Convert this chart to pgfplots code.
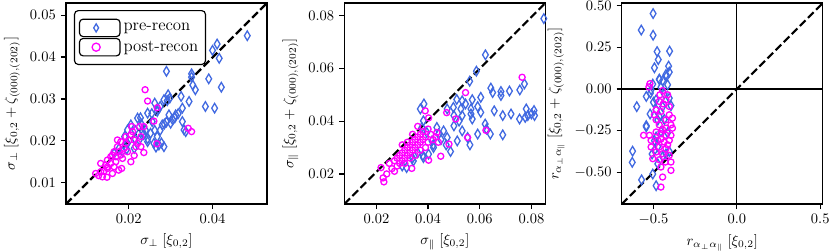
\documentclass[border=0pt]{standalone}
\usepackage{pgfplots}
\pgfplotsset{compat=1.18}
\definecolor{preblue}{RGB}{65,105,225}
\definecolor{postmag}{RGB}{255,0,255}
\tikzset{
  fmt/.style={/pgf/number format/fixed, /pgf/number format/fixed zerofill, /pgf/number format/precision=#1},
  diag/.style={black, line width=1.5pt, dash pattern=on 5.5pt off 2.4pt},
}
\newcommand{\lf}{\fontsize{11.6}{14}\selectfont}
\pgfplotsset{
  panel/.style={scale only axis, width=138.7pt, height=138.7pt, anchor=south west,
    tick align=outside, xtick pos=left, ytick pos=left,
    major tick length=3.5pt,
    every tick/.style={black, line width=0.8pt},
    axis line style={black, line width=0.8pt},
    scaled ticks=false,
    tick label style={font=\normalsize},
    label style={font=\normalsize},
  },
  pre/.style={only marks, mark=diamond, mark size=3.3pt,
    mark options={xscale=0.8, draw=preblue, line width=0.9pt, fill=none, solid}},
  post/.style={only marks, mark=o, mark size=2.1pt,
    mark options={draw=postmag, line width=0.9pt, fill=none, solid}},
}
\begin{document}
\begin{tikzpicture}
\useasboundingbox (0,0) rectangle (572.7pt,173.2pt);
% ---------------- panel 1
\begin{axis}[panel, at={(45.5pt,32.4pt)},
  xmin=0.0050, xmax=0.0530, ymin=0.0049, ymax=0.0529,
  xtick={0.02,0.04}, ytick={0.01,0.02,0.03,0.04,0.05},
  xticklabel style={fmt=2}, yticklabel style={fmt=2},
  xlabel={$\sigma_\perp\;[\xi_{0,2}]$},
  ylabel={$\sigma_\perp\;[\xi_{0,2}+\zeta_{(000),(202)}]$},
  legend style={at={(0.04,0.965)}, anchor=north west, draw=black, rounded corners=2.5pt,
    line width=0.8pt, inner xsep=3pt, inner ysep=5.5pt, row sep=0.5pt,
    font=\lf, nodes={font=\lf}},
  legend cell align=left,
  legend image code/.code={\path (0pt,-6pt) rectangle (28pt,6pt);
    \draw[#1, only marks, mark size=2.8pt] plot coordinates {(11.5pt,0pt)};},
]
\addplot[pre] coordinates {
(0.0483,0.0451) (0.0411,0.0431) (0.0400,0.0416) (0.0416,0.0397) (0.0290,0.0366)
(0.0350,0.0360) (0.0350,0.0352) (0.0391,0.0348) (0.0353,0.0333) (0.0421,0.0328)
(0.0359,0.0322) (0.0325,0.0306) (0.0294,0.0310) (0.0284,0.0298) (0.0383,0.0282)
(0.0405,0.0278) (0.0344,0.0294) (0.0328,0.0278) (0.0268,0.0270) (0.0296,0.0262)
(0.0312,0.0262) (0.0245,0.0266) (0.0221,0.0254) (0.0256,0.0246) (0.0280,0.0238)
(0.0300,0.0242) (0.0328,0.0246) (0.0332,0.0226) (0.0336,0.0222) (0.0205,0.0238)
(0.0197,0.0226) (0.0233,0.0222) (0.0252,0.0218) (0.0268,0.0210) (0.0225,0.0202)
(0.0245,0.0198) (0.0260,0.0194) (0.0284,0.0186) (0.0272,0.0190) (0.0197,0.0194)
(0.0213,0.0182) (0.0177,0.0182) (0.0165,0.0170) (0.0270,0.0275) (0.0262,0.0290)
(0.0255,0.0265) (0.0230,0.0240) (0.0235,0.0215) (0.0215,0.0205) (0.0240,0.0225)
(0.0275,0.0225) (0.0285,0.0240) (0.0290,0.0245) (0.0305,0.0250) (0.0310,0.0255)
(0.0318,0.0265) (0.0228,0.0255) (0.0190,0.0210) (0.0195,0.0180) (0.0185,0.0175)
(0.0215,0.0225) (0.0245,0.0205) (0.0265,0.0185) (0.0262,0.0225) (0.0298,0.0302)
(0.0292,0.0296) (0.0275,0.0282) (0.0278,0.0195)
};
\addlegendentry{\lf pre-recon}
\addplot[post] coordinates {
(0.0239,0.0322) (0.0245,0.0295) (0.0268,0.0279) (0.0260,0.0247) (0.0207,0.0234)
(0.0236,0.0234) (0.0226,0.0234) (0.0342,0.0230) (0.0350,0.0222) (0.0267,0.0193)
(0.0236,0.0172) (0.0213,0.0165) (0.0205,0.0150) (0.0183,0.0134) (0.0161,0.0166)
(0.0149,0.0134) (0.0148,0.0113) (0.0161,0.0122) (0.0176,0.0130) (0.0193,0.0210)
(0.0205,0.0214) (0.0213,0.0202) (0.0229,0.0210) (0.0229,0.0186) (0.0217,0.0186)
(0.0181,0.0198) (0.0173,0.0186) (0.0165,0.0174) (0.0157,0.0162) (0.0149,0.0154)
(0.0169,0.0150) (0.0185,0.0158) (0.0197,0.0174) (0.0189,0.0182) (0.0157,0.0146)
(0.0145,0.0142) (0.0165,0.0138) (0.0133,0.0126) (0.0121,0.0122) (0.0133,0.0146)
(0.0149,0.0138) (0.0177,0.0174) (0.0169,0.0162) (0.0193,0.0194) (0.0209,0.0222)
(0.0201,0.0202) (0.0221,0.0194) (0.0173,0.0202) (0.0181,0.0166) (0.0137,0.0114)
(0.0128,0.0117) (0.0141,0.0128)
};
\addlegendentry{\lf post-recon}
\draw[diag] (rel axis cs:0,0) -- (rel axis cs:1,1);
\end{axis}
% ---------------- panel 2
\begin{axis}[panel, at={(237.6pt,32.4pt)},
  xmin=0.0076, xmax=0.0854, ymin=0.0086, ymax=0.0847,
  xtick={0.02,0.04,0.06,0.08}, ytick={0.02,0.04,0.06,0.08},
  xticklabel style={fmt=2}, yticklabel style={fmt=2},
  xlabel={$\sigma_\parallel\;[\xi_{0,2}]$},
  ylabel={$\sigma_\parallel\;[\xi_{0,2}+\zeta_{(000),(202)}]$},
]
\addplot[pre] coordinates {
(0.0848,0.0788) (0.0622,0.0651) (0.0587,0.0589) (0.0561,0.0551) (0.0773,0.0541)
(0.0755,0.0518) (0.0643,0.0525) (0.0650,0.0508) (0.0682,0.0512) (0.0715,0.0514)
(0.0682,0.0497) (0.0604,0.0490) (0.0571,0.0481) (0.0532,0.0477) (0.0511,0.0482)
(0.0545,0.0465) (0.0498,0.0452) (0.0527,0.0446) (0.0566,0.0446) (0.0592,0.0455)
(0.0604,0.0433) (0.0566,0.0427) (0.0532,0.0421) (0.0571,0.0408) (0.0500,0.0421)
(0.0474,0.0446) (0.0656,0.0439) (0.0689,0.0421) (0.0721,0.0427) (0.0754,0.0408)
(0.0780,0.0446) (0.0786,0.0421) (0.0800,0.0427) (0.0810,0.0440) (0.0812,0.0421)
(0.0776,0.0414) (0.0621,0.0389) (0.0626,0.0370) (0.0641,0.0351) (0.0689,0.0348)
(0.0562,0.0310) (0.0487,0.0285) (0.0532,0.0363) (0.0500,0.0382) (0.0460,0.0363)
(0.0441,0.0351) (0.0434,0.0376) (0.0415,0.0325) (0.0382,0.0401) (0.0376,0.0376)
(0.0395,0.0357) (0.0421,0.0300) (0.0402,0.0275) (0.0382,0.0262) (0.0343,0.0249)
(0.0317,0.0224) (0.0370,0.0446) (0.0384,0.0465) (0.0474,0.0338) (0.0513,0.0325)
(0.0553,0.0338) (0.0592,0.0351) (0.0360,0.0280) (0.0380,0.0270) (0.0340,0.0260)
(0.0300,0.0230) (0.0420,0.0310) (0.0450,0.0330) (0.0470,0.0310) (0.0520,0.0400)
};
\addplot[post] coordinates {
(0.0764,0.0566) (0.0545,0.0508) (0.0389,0.0439) (0.0472,0.0432) (0.0507,0.0408)
(0.0553,0.0338) (0.0624,0.0365) (0.0449,0.0267) (0.0402,0.0252) (0.0481,0.0313)
(0.0434,0.0357) (0.0402,0.0412) (0.0337,0.0221) (0.0226,0.0185) (0.0229,0.0170)
(0.0218,0.0224) (0.0250,0.0240) (0.0260,0.0220) (0.0270,0.0250) (0.0280,0.0260)
(0.0280,0.0230) (0.0290,0.0270) (0.0300,0.0280) (0.0300,0.0250) (0.0310,0.0290)
(0.0310,0.0260) (0.0320,0.0300) (0.0320,0.0270) (0.0330,0.0310) (0.0330,0.0280)
(0.0340,0.0320) (0.0340,0.0290) (0.0350,0.0330) (0.0350,0.0300) (0.0350,0.0270)
(0.0360,0.0340) (0.0360,0.0310) (0.0370,0.0350) (0.0370,0.0320) (0.0370,0.0290)
(0.0380,0.0360) (0.0380,0.0330) (0.0390,0.0300) (0.0390,0.0340) (0.0400,0.0370)
(0.0400,0.0320) (0.0410,0.0350) (0.0420,0.0330) (0.0430,0.0340) (0.0440,0.0320)
(0.0360,0.0380) (0.0340,0.0350) (0.0330,0.0260) (0.0310,0.0240) (0.0290,0.0240)
(0.0270,0.0210) (0.0240,0.0200) (0.0320,0.0320) (0.0300,0.0310)
};
\draw[diag] (rel axis cs:0,0) -- (rel axis cs:1,1);
\end{axis}
% ---------------- panel 3
\begin{axis}[panel, at={(429pt,32.4pt)},
  xmin=-0.69, xmax=0.515, ymin=-0.69, ymax=0.515,
  xtick={-0.5,0,0.5}, ytick={-0.5,-0.25,0,0.25,0.5},
  xticklabel style={fmt=1}, yticklabel style={fmt=2},
  xlabel={$r_{\alpha_\perp\alpha_\parallel}\;[\xi_{0,2}]$},
  ylabel={$r_{\alpha_\perp\alpha_\parallel}\;[\xi_{0,2}+\zeta_{(000),(202)}]$},
]
\addplot[black, line width=0.8pt, forget plot] coordinates {(-0.69,0) (0.515,0)};
\addplot[black, line width=0.8pt, forget plot] coordinates {(0,-0.69) (0,0.515)};
\addplot[pre] coordinates {
(-0.502,0.452) (-0.573,0.353) (-0.502,0.322) (-0.478,0.224) (-0.403,0.227)
(-0.494,0.127) (-0.471,0.176) (-0.409,0.137) (-0.405,0.101) (-0.421,0.077)
(-0.465,0.059) (-0.445,0.049) (-0.504,0.029) (-0.543,-0.045) (-0.518,-0.025)
(-0.600,-0.106) (-0.484,-0.065) (-0.405,-0.055) (-0.395,-0.100) (-0.543,-0.220)
(-0.625,-0.373) (-0.627,-0.440) (-0.571,-0.545) (-0.484,-0.580) (-0.508,-0.390)
(-0.494,-0.310) (-0.465,-0.165) (-0.484,-0.125) (-0.435,-0.183) (-0.415,-0.263)
(-0.455,-0.255) (-0.474,-0.345) (-0.445,-0.405) (-0.405,-0.375) (-0.543,-0.227)
(-0.514,-0.005) (-0.464,0.056) (-0.425,0.086) (-0.415,0.025) (-0.445,-0.106)
(-0.474,-0.187) (-0.484,-0.288) (-0.494,-0.368) (-0.474,-0.449) (-0.504,-0.510)
(-0.425,-0.389) (-0.455,0.010) (-0.435,-0.030) (-0.500,-0.080) (-0.520,-0.150)
};
\addplot[post] coordinates {
(-0.521,0.032) (-0.527,0.012) (-0.445,-0.010) (-0.461,-0.035) (-0.425,-0.065)
(-0.465,-0.075) (-0.441,-0.090) (-0.484,-0.125) (-0.455,-0.135) (-0.405,-0.155)
(-0.386,-0.175) (-0.425,-0.185) (-0.484,-0.185) (-0.465,-0.215) (-0.395,-0.215)
(-0.425,-0.235) (-0.386,-0.235) (-0.559,-0.278) (-0.524,-0.278) (-0.484,-0.258)
(-0.455,-0.268) (-0.425,-0.278) (-0.395,-0.278) (-0.514,-0.308) (-0.474,-0.308)
(-0.435,-0.318) (-0.405,-0.308) (-0.514,-0.348) (-0.465,-0.348) (-0.425,-0.358)
(-0.484,-0.378) (-0.445,-0.388) (-0.405,-0.398) (-0.504,-0.418) (-0.465,-0.424)
(-0.429,-0.438) (-0.395,-0.438) (-0.455,-0.468) (-0.395,-0.488) (-0.445,-0.528)
(-0.455,-0.588) (-0.494,-0.155) (-0.405,-0.105) (-0.415,-0.035) (-0.445,-0.245)
(-0.415,-0.335) (-0.455,-0.300)
};
\draw[diag] (rel axis cs:0,0) -- (rel axis cs:1,1);
\end{axis}
\end{tikzpicture}
\end{document}
